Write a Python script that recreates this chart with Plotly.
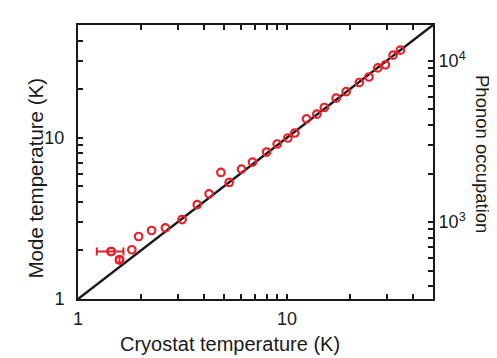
import numpy as np
import plotly.graph_objects as go

# cryostat temperature (K) vs mode temperature (K)
t_cryo = [1.44, 1.58, 1.81, 1.95, 2.25, 2.62, 3.15, 3.72, 4.24, 4.83, 5.29, 6.06, 6.84, 7.99,
          8.98, 10.1, 10.9, 12.4, 13.9, 15.1, 17.2, 19.2, 22.2, 24.7, 27.2, 29.6, 32.2, 34.9]
t_mode = [1.97, 1.75, 2.02, 2.44, 2.66, 2.76, 3.11, 3.85, 4.49, 6.09, 5.28, 6.39, 7.06, 8.15,
          9.14, 9.96, 10.7, 13.1, 14.0, 15.4, 17.6, 19.3, 22.0, 23.8, 27.1, 28.3, 32.5, 34.9]
# only the two lowest points carry error bars
xerr_pt = 0.21   # point 0, horizontal
yerr_pt = 0.07   # point 1, vertical

diag = [1, 50]
n_per_K = 333.3  # phonon occupation per kelvin

red = '#e8202a'
blk = '#1a1a1a'
fnt = 'Liberation Sans, Arial, sans-serif'
mk = dict(symbol='circle-open', size=7.5, color=red, line=dict(width=2.2, color=red))

fig = go.Figure()
fig.add_trace(go.Scatter(x=diag, y=diag, mode='lines', line=dict(color=blk, width=2.5),
                         showlegend=False, hoverinfo='skip'))
fig.add_trace(go.Scatter(x=t_cryo, y=t_mode, mode='markers', marker=mk, showlegend=False))
fig.add_trace(go.Scatter(x=t_cryo[:1], y=t_mode[:1], mode='markers', marker=mk, showlegend=False,
                         error_x=dict(type='data', array=[xerr_pt], color=red, thickness=2, width=4)))
fig.add_trace(go.Scatter(x=t_cryo[1:2], y=t_mode[1:2], mode='markers', marker=mk, showlegend=False,
                         error_y=dict(type='data', array=[yerr_pt], color=red, thickness=2, width=4)))
fig.add_trace(go.Scatter(x=[], y=[], yaxis='y2', showlegend=False))

dec_vals = [1, 2, 3, 4, 5, 6, 7, 8, 9, 10, 20, 30, 40]
dec_text = ['1'] + [''] * 8 + ['10'] + [''] * 3
n_vals = [400, 500, 600, 700, 800, 900, 1000, 2000, 3000, 4000, 5000, 6000, 7000, 8000, 9000, 10000]
n_text = [''] * 6 + ['10<sup>3</sup>'] + [''] * 8 + ['10<sup>4</sup>']

ax = dict(type='log', showline=True, linecolor=blk, linewidth=2, ticks='inside',
          tickcolor=blk, tickwidth=1.5, ticklen=5, showgrid=False, zeroline=False, automargin=False,
          tickfont=dict(family=fnt, size=18, color=blk))

fig.update_layout(
    width=489, height=350,
    margin=dict(l=70, r=64, t=17, b=59),
    plot_bgcolor='white', paper_bgcolor='white',
    xaxis=dict(ax, range=[0, np.log10(50)], tickvals=dec_vals, ticktext=dec_text, mirror='ticks',
               ticklabelstandoff=2),
    yaxis=dict(ax, range=[0, np.log10(50)], tickvals=dec_vals, ticktext=dec_text, mirror=True,
               ticklabelstandoff=8),
    yaxis2=dict(ax, overlaying='y', side='right', anchor='x',
                range=[np.log10(n_per_K), np.log10(n_per_K * 50)],
                tickvals=n_vals, ticktext=n_text),
    annotations=[
        dict(text='Cryostat temperature (K)', xref='paper', yref='paper', x=0.427, y=-0.163,
             xanchor='center', yanchor='middle',
             showarrow=False, font=dict(family=fnt, size=20, color=blk)),
        dict(text='Mode temperature (K)', xref='paper', yref='paper', x=-0.121, y=0.44,
             xanchor='center', yanchor='middle',
             textangle=-90, showarrow=False, font=dict(family=fnt, size=20.5, color=blk)),
        dict(text='Phonon occupation', xref='paper', yref='paper', x=1.141, y=0.529,
             xanchor='center', yanchor='middle',
             textangle=90, showarrow=False, font=dict(family=fnt, size=18.5, color=blk)),
    ],
)

fig.write_html('out.html')
